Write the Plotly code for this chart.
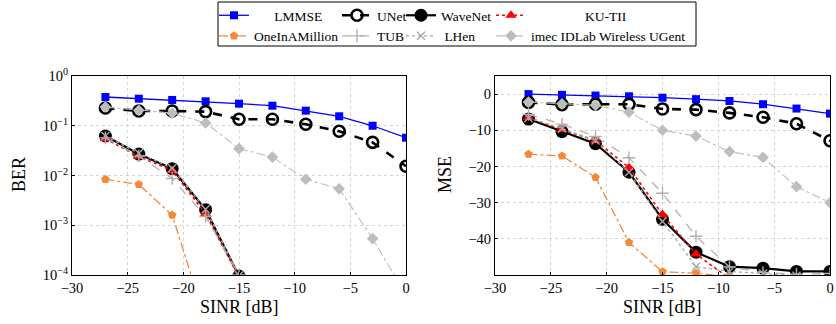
import plotly.graph_objects as go

# ---------------- data ----------------
sinr = [-27, -24, -21, -18, -15, -12, -9, -6, -3, 0]

ber_lmmse = [0.378, 0.35, 0.33, 0.31, 0.278, 0.253, 0.201, 0.155, 0.100, 0.0575]
ber_unet = [0.227, 0.198, 0.198, 0.192, 0.135, 0.135, 0.107, 0.0773, 0.0464, 0.0153]
ber_wavenet = [0.0622, 0.027, 0.0137, 0.00206, 0.000095, None, None, None, None, None]
ber_kutii = [0.055, 0.024, 0.0126, 0.0017, 0.00009, None, None, None, None, None]
ber_oneinamillion = [0.0084, 0.0066, 0.0016, 0.000012, None, None, None, None, None, None]
ber_tub = [0.057, 0.0245, 0.0087, 0.0015, 0.0001, None, None, None, None, None]
ber_lhen = [0.062, 0.028, 0.014, 0.0021, 0.000098, None, None, None, None, None]
ber_imec = [0.238, 0.204, 0.18, 0.1136, 0.0346, 0.0235, 0.0084, 0.0054, 0.00054, 0.00004]

mse_lmmse = [0.0, -0.2, -0.4, -0.6, -1.0, -1.4, -1.9, -2.8, -4.0, -5.4]
mse_unet = [-2.3, -2.9, -2.8, -2.8, -4.1, -4.3, -5.2, -6.4, -8.2, -12.9]
mse_wavenet = [-6.9, -10.4, -13.7, -21.6, -34.6, -43.7, -47.7, -48.1, -49.0, -49.0]
mse_kutii = [-6.5, -9.8, -12.8, -20.3, -33.3, -44.2, -51.0, None, None, None]
mse_oneinamillion = [-16.6, -17.1, -23.0, -41.0, -49.1, -49.5, -50.5, None, None, None]
mse_tub = [-5.6, -8.3, -11.7, -17.6, -27.4, -39.3, -47.8, -49.3, -49.8, -49.6]
mse_lhen = [-6.6, -9.5, -12.8, -21.6, -35.2, -47.7, -49.0, -49.6, -50.2, None]
mse_imec = [-2.2, -2.7, -3.1, -5.0, -10.0, -11.6, -15.9, -17.5, -25.6, -30.0]

ber_ticks = [1, 0.1, 0.01, 0.001, 0.0001]
ber_ticktext = ["10<sup>0</sup>", "10<sup>−1</sup>", "10<sup>−2</sup>",
                "10<sup>−3</sup>", "10<sup>−4</sup>"]
mse_ticks = [0, -10, -20, -30, -40]
x_ticks = [-30, -25, -20, -15, -10, -5, 0]

FONT = "Liberation Serif"
W, H = 836, 324
NB = "\u00a0"

# ---------------- styles ----------------
series = [
    # name, legend label, ber, mse, color, dash, width, symbol, size, marker line width, legend
    ("LMMSE", NB * 6 + "LMMSE", ber_lmmse, mse_lmmse, "#0000ff", "solid", 1.3, "square", 8, 0, "legend"),
    ("UNet", "UNet", ber_unet, mse_unet, "#000000", "dash", 2.6, "circle-open", 11, 2.6, "legend2"),
    ("WaveNet", "WaveNet", ber_wavenet, mse_wavenet, "#000000", "solid", 2.2, "circle", 13, 0, "legend3"),
    ("KU-TII", NB * 16 + "KU-TII", ber_kutii, mse_kutii, "#ff0000", "dot", 1.6, "triangle-up", 10, 0, "legend4"),
    ("OneInAMillion", "OneInAMillion", ber_oneinamillion, mse_oneinamillion, "#f28a3c", "dashdot", 1.3, "pentagon", 9, 0, "legend"),
    ("TUB", "TUB", ber_tub, mse_tub, "#b0b0b0", "dash", 1.3, "cross-thin", 9, 1.4, "legend2"),
    ("LHen", NB + "LHen", ber_lhen, mse_lhen, "#a8a8a8", "dot", 1.3, "x-thin", 8, 1.4, "legend3"),
    ("imec IDLab Wireless UGent", "imec IDLab Wireless UGent", ber_imec, mse_imec, "#bdbdbd", "dashdot", 1.1, "diamond", 9, 0, "legend4"),
]

fig = go.Figure()
for name, label, b, m, col, dash, lw, sym, sz, mlw, leg in series:
    for yvals, xa, ya, show in ((b, "x", "y", True), (m, "x2", "y2", False)):
        fig.add_trace(go.Scatter(
            x=sinr, y=yvals, xaxis=xa, yaxis=ya, name=label,
            mode="lines+markers", legend=leg, showlegend=show,
            line=dict(color=col, dash=dash, width=lw),
            marker=dict(symbol=sym, size=sz, color=col,
                        line=dict(color=col, width=mlw)),
            connectgaps=False,
        ))

px = lambda p: p / W
py = lambda p: 1 - p / H

axis_common = dict(
    showline=True, linecolor="black", linewidth=1, mirror=True,
    showgrid=True, gridcolor="#d4d4d4", griddash="dot", gridwidth=1,
    ticks="inside", ticklen=3, tickcolor="black", zeroline=False,
    tickfont=dict(family=FONT, size=14.5, color="black"), automargin=False,
)

fig.update_layout(
    width=W, height=H, template="none",
    margin=dict(l=0, r=0, t=0, b=0),
    paper_bgcolor="white", plot_bgcolor="white",
    font=dict(family=FONT, size=13, color="black"),
    xaxis=dict(domain=[px(72), px(406)], range=[-30, 0], tickvals=x_ticks,
               anchor="y", **axis_common),
    yaxis=dict(domain=[py(275), py(76)], type="log", range=[-4, 0],
               tickvals=ber_ticks, ticktext=ber_ticktext, anchor="x", **axis_common),
    xaxis2=dict(domain=[px(495), px(830)], range=[-30, 0], tickvals=x_ticks,
                anchor="y2", **axis_common),
    yaxis2=dict(domain=[py(275), py(76)], range=[-50, 5], tickvals=mse_ticks,
                anchor="x2", **axis_common),
    showlegend=True,
)

leg_common = dict(xanchor="left", yanchor="top", bgcolor="rgba(0,0,0,0)",
                  borderwidth=0, font=dict(family=FONT, size=13.5, color="black"),
                  tracegroupgap=0, orientation="v", itemwidth=30)
fig.update_layout(
    legend=dict(x=px(214), y=py(0), **leg_common),
    legend2=dict(x=px(337), y=py(0), **leg_common),
    legend3=dict(x=px(401), y=py(0), **leg_common),
    legend4=dict(x=px(491), y=py(0), **leg_common),
)

fig.add_shape(type="rect", xref="paper", yref="paper",
              x0=px(218), x1=px(696), y0=py(46), y1=py(2),
              line=dict(color="black", width=1), fillcolor="rgba(0,0,0,0)")

# axis titles
title_font = dict(family=FONT, size=18, color="black")
fig.add_annotation(text="SINR [dB]", x=px(239), y=py(307), xref="paper", yref="paper",
                   showarrow=False, font=title_font, xanchor="center", yanchor="middle")
fig.add_annotation(text="SINR [dB]", x=px(662), y=py(307), xref="paper", yref="paper",
                   showarrow=False, font=title_font, xanchor="center", yanchor="middle")
fig.add_annotation(text="BER", x=px(19), y=py(175), xref="paper", yref="paper",
                   showarrow=False, font=title_font, textangle=-90,
                   xanchor="center", yanchor="middle")
fig.add_annotation(text="MSE", x=px(445), y=py(175), xref="paper", yref="paper",
                   showarrow=False, font=title_font, textangle=-90,
                   xanchor="center", yanchor="middle")

fig.write_html("out.html", config={"displayModeBar": False},
               post_script="document.body.style.margin='0';document.body.style.overflow='hidden';")
